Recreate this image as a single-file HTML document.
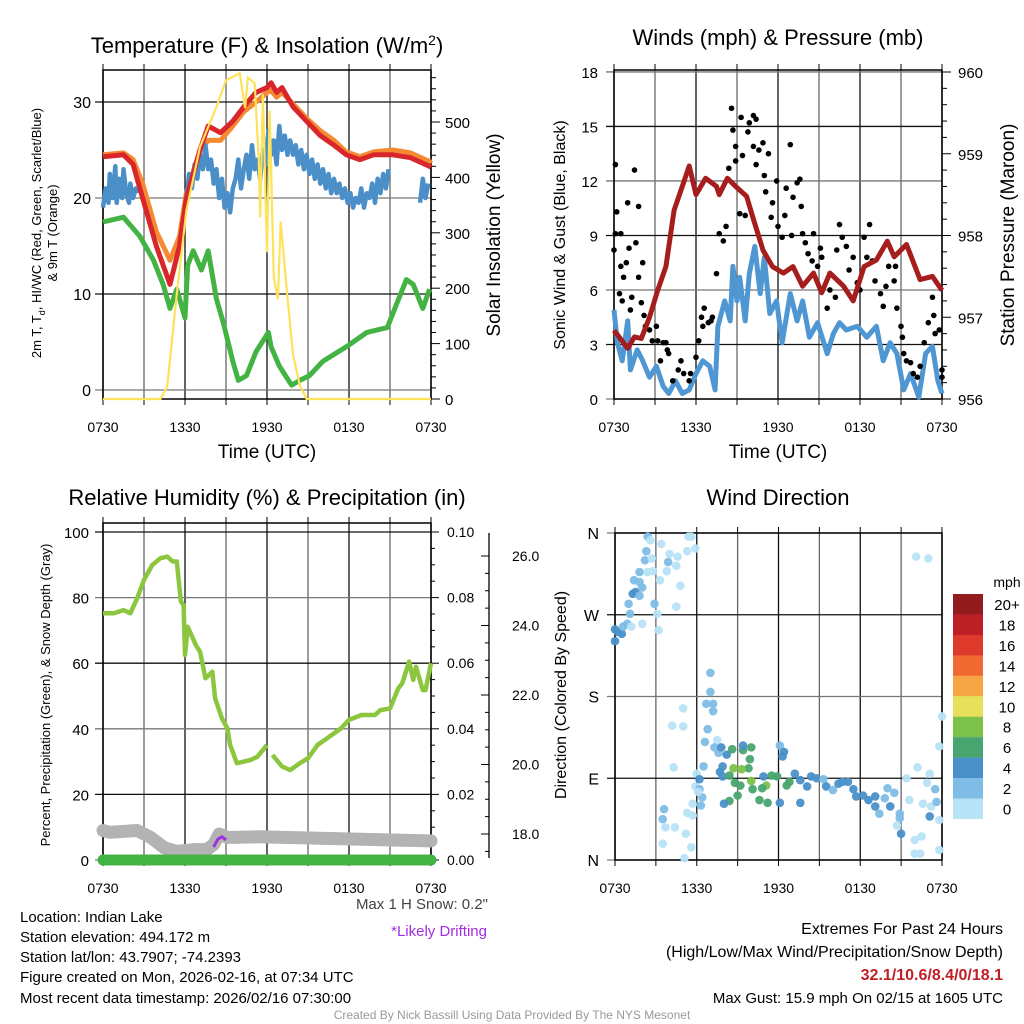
<!DOCTYPE html>
<html><head><meta charset="utf-8"><style>
html,body{margin:0;padding:0;background:#fff}
svg{display:block;font-family:"Liberation Sans",sans-serif}
.t{font-family:"Liberation Sans Narrow","Liberation Sans",sans-serif}
</style></head><body>
<svg id="s" width="1024" height="1024" viewBox="0 0 1024 1024" xmlns="http://www.w3.org/2000/svg"></svg>
<script>
// ---------- DATA ----------
const xTickLabels=["0730","1330","1930","0130","0730"];
// Panel 1 (hours since 0730)
const redH=[0,1.5,2.2,2.9,3.9,4.9,5.6,6.1,7.1,7.7,8.6,9.5,10.3,11.2,12,12.3,12.7,13.1,13.9,14.9,15.9,16.9,17.8,18.8,19.8,21.2,22.5,23.9,24];
const redT=[24.3,24.5,23.5,20,15,11,15,20,25,27.5,26.8,28,29.5,31,31.5,32,31,31.5,29.5,28,26.5,25.5,24.5,24,24.5,24.5,24.2,23.3,23.2];
const orangeT=[24.5,24.7,24,21.5,16.5,13.5,16,20.5,25,26,26,27.5,29,30,31,31.2,30.5,31,29.8,28.3,27,26,24.8,24.3,24.8,25,24.7,23.8,23.6];
const blueH=[0,0.2,0.4,0.5,0.7,0.9,1,1.2,1.4,1.5,1.7,1.9,2.0,2.2,2.4,2.5,null,6.1,6.3,6.5,6.7,6.9,7.1,7.3,7.5,7.7,7.9,8.1,8.3,8.5,8.7,8.9,9.1,9.3,9.5,9.7,9.9,10.1,10.3,10.5,10.7,10.9,11.1,11.3,11.5,11.7,11.9,12.1,12.3,12.5,12.7,12.9,13.1,13.3,13.5,13.7,13.9,14.1,14.3,14.5,14.7,14.9,15.1,15.3,15.5,15.7,15.9,16.1,16.3,16.5,16.7,16.9,17.1,17.3,17.5,17.7,17.9,18.1,18.3,18.5,18.7,18.9,19.1,19.3,19.5,19.7,19.9,20.1,20.3,20.5,20.7,20.9,null,23.2,23.4,23.6,23.8];
const blueT=[19,21,19.5,22.5,20,23.3,19.5,22,20,23,20.5,19.5,21.5,20,21,20.5,null,20,22.5,21,23.5,22,24.5,23,25.5,23,24,21.5,23,20,22,19,20.5,18.5,21,22,24,21,23,24.5,22,25.5,23,24,22,25,23.5,27,24.5,26,23.5,27.5,25,26.5,24.5,26,24.5,25.5,23.5,25,23,24.5,22.5,24,22,23.5,21.5,23,21,22.5,20.5,22,20.5,21.5,20,21,19.5,20.5,19,20,19.5,21,19,20.5,20,21.5,19.5,22,20.5,22.5,21,23,null,19.5,22,20,21.5];
const greenH=[0,1.5,2.7,3.7,4.4,4.9,5.4,6,6.2,6.6,7.2,7.7,8.3,8.8,9.5,9.9,10.5,11.2,12.1,12.3,12.9,13.8,14.4,15.1,16.1,17.8,19.3,20.8,21.5,22.2,22.7,23.4,23.9];
const greenT=[17.5,18,16,13.5,11,8.5,10.5,7.5,13,14.5,12.5,14.5,9.5,7,3,1,1.5,4,6,4.5,2.5,0.5,1,1.5,3,4.5,6,6.5,9,11.5,11,8.5,10.5];
const solarH=[0,4.2,4.7,5.4,6.1,7.1,8.3,9,10,10.4,10.6,11.1,11.4,11.5,11.7,12,12.2,12.5,12.8,13,13.4,13.9,14.4,14.9,24];
const solarS=[0,0,22,190,340,455,527,575,588,525,580,570,430,328,550,265,520,220,180,320,210,80,25,0,0];
// Panel 2
const presH=[0,1,1.5,2,2.6,3.2,3.8,4.4,5,5.5,6,6.7,7.5,7.7,8.3,8.9,9.7,10.2,10.9,11.6,12.4,13.1,13.8,14.6,15.2,15.8,16.8,17.5,18.3,19.2,20,20.5,21.4,22.4,23.3,24];
const presP=[956.84,956.62,956.76,956.74,957.0,957.33,957.62,958.31,958.6,958.85,958.5,958.7,958.6,958.5,958.7,958.6,958.48,958.2,957.82,957.62,957.54,957.62,957.38,957.54,957.3,957.54,957.38,957.2,957.62,957.7,957.93,957.74,957.89,957.46,957.5,957.33];
const windH=[0,0.25,0.6,1,1.2,1.7,2.1,2.6,3.1,3.6,4,4.5,5,5.5,6,6.5,7,7.4,7.6,8.1,8.5,8.7,9,9.2,9.6,9.9,10.3,10.7,11,11.4,11.9,12.3,12.9,13.4,13.8,14.3,14.9,15.6,16.05,16.5,17,17.8,18.5,19.2,19.7,20.2,20.7,21.2,21.7,22.3,22.8,23.3,23.7,24];
const windV=[4.9,3.1,2.1,4.3,1.6,2.7,2.1,1.2,1.8,0.7,0.3,1,0.3,0.5,1.4,2.1,1.8,0.5,4,5.4,4.3,7.3,5.4,6.7,4.3,6.9,8.4,5.8,7.8,4.7,5.4,3.1,5.8,4.3,5.4,3.4,4.2,2.5,3.6,4.2,3.8,4,3.4,4,2.1,3.1,2.5,0.5,1.4,0.1,2.5,2.9,1,0.3];
const gustH=[0,0.1,0.2,0.1,0.5,0.4,0.5,0.6,0.7,0.9,1.1,1,1.2,1.3,1.5,1.6,1.8,1.8,2,2.1,2.2,2.3,2.6,2.8,3.1,3.2,3.4,3.6,3.8,3.9,4,4.3,4.7,4.9,5.1,5.5,5.6,6,6.2,6.4,6.6,6.5,6.9,7.1,7.2,7.5,7.7,8,8.2,8.4,8.6,8.7,8.9,8.9,9.2,9.3,9.4,9.6,9.8,9.9,10.2,10.4,10.2,10.4,10.6,10.9,11,11.3,11.1,11.6,11.5,11.9,12,12.3,12.5,12.6,12.9,13,13.1,13.4,13.6,13.7,13.8,14,14.2,14.5,14.6,14.9,15.1,15.2,15.6,15.8,16.2,16.3,16.5,16.7,17,17.2,17.5,17.8,18,18.3,18.5,18.7,18.9,19.1,19.5,19.7,19.9,20.1,20.5,20.6,20.7,21,21.1,21.2,21.4,21.7,21.9,22.2,22.4,22.7,23,23.3,23.4,23.5,23.8,24,24];
const gustV=[8.2,12.9,10.3,9.1,9.1,5.8,7.3,5.4,6.7,7.5,8.3,10.8,4.9,5.6,12.6,8.6,10.6,6.7,5.3,7.5,4.6,4,3.8,3.2,4,3.2,2.1,3.1,3.1,2.7,2.5,1,1.6,2.1,1.4,1,1.4,2.3,3.2,4.5,5,4,4.2,4.3,4.5,6.9,9.1,8.7,9.5,12.7,16,14.8,13.9,13.1,10.2,15.5,13.4,10.1,14.7,15.2,15.6,15.4,13.9,12.9,13.7,14.1,12.3,13.5,11.4,10.8,10,12,9.5,8.9,10.1,11.6,14,9,11.1,11.9,12.1,10.6,9.1,8.6,8,7.6,9.1,7.3,8.3,7.8,5,6,5.6,8.2,9.6,8.9,8.4,7.1,7.8,6.4,6,8.9,7.8,9.6,7.6,6.5,5.8,5.1,6.2,7.3,6.5,7.3,5,4,3.4,2.5,2.1,2,1.4,1.2,1.8,3.1,4.2,5.6,4.6,3.6,3.8,1.6,1.2];
// Panel 3
const rhH=[0,0.8,1.5,2,2.5,3,3.6,4.2,4.7,5.1,5.4,5.7,5.9,6.0,6.2,6.8,7.1,7.5,8,8.2,8.7,9.1,9.3,9.8,10.8,11.3,12.0,null,12.4,13.1,13.7,14.4,15,15.7,16.4,17.4,18,18.9,19.9,20.3,21,21.6,21.9,22.4,22.7,22.9,23.4,23.6,24];
const rhV=[75.2,75.2,76.2,75.2,79.8,85.4,89.9,92,92.5,91,91,78.8,77.7,62.5,71.1,65.5,63.5,55.4,57.4,49.3,43.2,40.1,35.1,29.5,30.5,31.5,35.1,null,32,28.5,27.4,29.5,31,35.1,37.1,40.1,42.7,44.2,44.2,45.7,46.2,52.3,53.9,60.5,54.9,58.9,51.8,51.8,60];
const snowH=[0,0.5,2.5,3.5,4.5,5.4,6.7,7.6,8.1,8.5,9.1,11.3,24];
const snowD=[18.1,18.05,18.1,17.9,17.6,17.5,17.55,17.55,17.7,18.0,17.9,17.92,17.8];
const driftH=[8.1,8.4,8.7,9.0];
const driftD=[17.63,17.85,17.92,17.83];
// Panel 4
const dirH=[0,0,0.2,0.5,0.6,0.9,1.1,1,1.3,1.5,1.8,2,1.8,1.4,1.8,2.2,2.3,2.4,2.6,2.7,2.4,2.8,3.3,3.4,3.8,3.9,4,4.5,4.6,4.8,4.5,2.9,3.1,3.2,2,1.2,5.3,5.6,5.9,5.4,7,7,6.7,7.2,7.2,5,4.2,5,6.8,6.6,7.5,7.3,7.6,7.8,8.2,8.6,9.4,10,9.4,9.9,9.8,8.7,9.3,7.9,7.7,7.9,8.4,8.8,9.2,9,8.4,8,10,11.1,10.1,10.8,10.6,11.2,10.9,11.5,11.9,12.1,12.4,12.3,12.6,12.8,12.1,13.6,13.2,13.6,14.1,14.4,14.8,15.3,15.5,16,16.4,16.7,17.1,17.5,17.7,18.2,18.6,19.1,19.4,19.1,19.8,20,20.2,20.5,20.9,21,21.4,21.6,22,22.2,22.5,22.9,22.6,23.1,23.2,23.1,23.5,23.6,23.8,24,23.8,23.8,22,22.4,22.1,23,20.9,20.7,3.6,3.5,3.5,3.7,4.4,5.2,5.6,5.1,5.3,5.7,5.7,6,5.9,6.2,6.2,6.4,6.3,4.3,6.5,6.1];
const dirD=[241,254,251,249,257,260,271,282,293,295,291,300,306,308,317,330,340,356,352,332,317,318,308,348,318,328,337,324,334,302,279,282,271,253,260,257,340,356,343,356,206,185,172,172,164,167,148,147,144,130,132,124,118,124,116,122,121,124,126,111,101,101,100,103,97,92,93,85,82,71,65,62,87,82,78,79,66,63,92,93,92,126,119,114,82,86,63,63,95,88,81,92,90,89,81,77,84,86,86,78,70,71,66,70,51,59,68,79,59,74,51,29,90,66,22,102,26,85,62,95,59,48,78,64,125,158,44,11,7,7,334,332,46,38,56,45,18,36,36,29,14,2,52,49,62,95,81,89,78,69,60,102,103,75];
const dirS=[5,5,5,5,3,3,3,3,5,5,3,3,3,3,3,3,3,3,1,1,1,1,1,1,1,3,1,1,1,1,1,3,1,1,1,1,1,1,1,1,3,3,3,3,3,1,1,1,3,3,1,3,3,5,5,7,7,7,5,7,7,9,9,5,5,5,7,7,7,7,7,5,9,9,7,7,7,7,5,7,7,3,5,5,7,7,5,5,5,5,5,5,5,3,5,3,5,5,5,5,5,5,5,5,3,5,3,3,5,3,3,5,1,1,1,1,1,1,1,1,1,5,3,3,1,1,1,1,1,1,1,1,3,1,3,3,1,1,1,1,1,1,1,1,1,1,1,5,3,3,3,1,3,1];
const legendLabels=["20+","18","16","14","12","10","8","6","4","2","0"];
const legendColors=["#921b1e","#bd1f26","#dd3a2b","#ef6930","#f6a545","#e6e05a","#7cc14a","#49a570","#4a90c8","#7fbde6","#b8e3f7"];

// ---------- DRAWING ----------
const S=document.getElementById('s');
const NS="http://www.w3.org/2000/svg";
function mk(tag,attrs,parent){const e=document.createElementNS(NS,tag);for(const k in attrs)e.setAttribute(k,attrs[k]);(parent||S).appendChild(e);return e;}
function txt(x,y,str,size,opts,parent){opts=opts||{};const e=mk('text',{x:x,y:y,'font-size':size,'text-anchor':opts.anchor||'middle',fill:opts.fill||'#000'},parent);if(opts.rot)e.setAttribute('transform','rotate('+opts.rot+' '+x+' '+y+')');if(opts.cls)e.setAttribute('class',opts.cls);if(opts.weight)e.setAttribute('font-weight',opts.weight);e.textContent=str;return e;}
function pathFrom(hs,vs,fx,fy){let d='',pen=false;for(let i=0;i<hs.length;i++){if(hs[i]===null||vs[i]===null){pen=false;continue;}d+=(pen?'L':'M')+fx(hs[i]).toFixed(1)+' '+fy(vs[i]).toFixed(1);pen=true;}return d;}
function grid(g,x0,x1,y0,y1,yl){for(let i=0;i<=8;i++){const x=x0+(x1-x0)*i/8;mk('line',{x1:x,y1:y0,x2:x,y2:y1,stroke:i%2?'#666':'#111','stroke-width':1.3},g);mk('line',{x1:x,y1:y0,x2:x,y2:y0-6,stroke:'#000'},g);mk('line',{x1:x,y1:y1,x2:x,y2:y1+6,stroke:'#000'},g);}
 yl.forEach((y,i)=>{mk('line',{x1:x0-8,y1:y,x2:x1,y2:y,stroke:i%2?'#111':'#777','stroke-width':1.3},g);});
 mk('rect',{x:x0,y:y0,width:x1-x0,height:y1-y0,fill:'none',stroke:'#000','stroke-width':1.5},g);
 xTickLabels.forEach((l,i)=>{const t=txt(x0+(x1-x0)*i/4,y1+33,l,14,{cls:'t'},g);});}

// ===== Panel 1 =====
{const g=mk('g',{});
const X0=103,X1=431,Y0=70,Y1=399;const fx=h=>X0+h*(X1-X0)/24;const fy=t=>390-9.6*t;const fs=s=>399-0.554*s;
grid(g,X0,X1,Y0,Y1,[fy(0),fy(10),fy(20),fy(30)]);
[0,10,20,30].forEach(v=>{const t=txt(X0-12,fy(v)+6,String(v),16,{anchor:'end'},g);});
for(let s=0;s<=590;s+=20){mk('line',{x1:X1,y1:fs(s),x2:X1+(s%100?5:9),y2:fs(s),stroke:'#000'},g);}
[0,100,200,300,400,500].forEach(v=>{const t=txt(X1+14,fs(v)+6,String(v),15,{anchor:'start'},g);});
const l1=mk('path',{d:pathFrom(redH,orangeT,fx,fy),fill:'none',stroke:'#f58a33','stroke-width':5,'stroke-linejoin':'round'},g);
const l2=mk('path',{d:pathFrom(blueH,blueT,fx,fy),fill:'none',stroke:'#4a8fc8','stroke-width':4.5,'stroke-linejoin':'round'},g);
const l3=mk('path',{d:pathFrom(redH,redT,fx,fy),fill:'none',stroke:'#d9262b','stroke-width':5,'stroke-linejoin':'round'},g);
const l4=mk('path',{d:pathFrom(greenH,greenT,fx,fy),fill:'none',stroke:'#43b344','stroke-width':5,'stroke-linejoin':'round'},g);
const l5=mk('path',{d:pathFrom(solarH,solarS,fx,fs),fill:'none',stroke:'#fde25a','stroke-width':2.2},g);
const t1=mk('text',{x:267,y:53,'font-size':22,'text-anchor':'middle'},g);t1.innerHTML='Temperature (F) &amp; Insolation (W/m<tspan dy="-8" font-size="14">2</tspan><tspan dy="8">)</tspan>';
const a=txt(41,233,'',13,{rot:-90},g);a.innerHTML='2m T, T<tspan dy="4" font-size="9">d</tspan><tspan dy="-4">, HI/WC (Red, Green, Scarlet/Blue)</tspan>';
const a2=txt(57,233,'& 9m T (Orange)',13,{rot:-90},g);
const a3=txt(500,235,'Solar Insolation (Yellow)',19,{rot:-90},g);
const a4=txt(267,458,'Time (UTC)',19,{},g);}

// ===== Panel 2 =====
{const g=mk('g',{});
const X0=614,X1=942,Y0=70,Y1=399;const fx=h=>X0+h*(X1-X0)/24;const fy=v=>399-v*18.17;const fp=p=>399-(p-956)*81.75;
grid(g,X0,X1,Y0,Y1,[fy(0),fy(3),fy(6),fy(9),fy(12),fy(15),fy(18)]);
[0,3,6,9,12,15,18].forEach(v=>{const t=txt(X0-16,fy(v)+6,String(v),15,{anchor:'end'},g);});
for(let p=956;p<=960.001;p+=0.2){mk('line',{x1:X1,y1:fp(p),x2:X1+(Math.abs(p-Math.round(p))<0.01?9:5),y2:fp(p),stroke:'#000'},g);}
[956,957,958,959,960].forEach(v=>{const t=txt(X1+16,fp(v)+6,String(v),15,{anchor:'start'},g);});
const w=mk('path',{d:pathFrom(windH,windV,fx,fy),fill:'none',stroke:'#4f97d3','stroke-width':5,'stroke-linejoin':'round'},g);
for(let i=0;i<gustH.length;i++){const c=mk('circle',{cx:fx(gustH[i]),cy:fy(gustV[i]),r:2.8,fill:'#000'},g);

}
const p=mk('path',{d:pathFrom(presH,presP,fx,fp),fill:'none',stroke:'#a51d1d','stroke-width':5,'stroke-linejoin':'round'},g);
const t=txt(778,45,'Winds (mph) & Pressure (mb)',22,{},g);
const a=txt(565,235,'Sonic Wind & Gust (Blue, Black)',16,{rot:-90},g);
const b=txt(1014,235,'Station Pressure (Maroon)',19,{rot:-90},g);
const c=txt(778,458,'Time (UTC)',19,{},g);}

// ===== Panel 3 =====
{const g=mk('g',{});
const X0=103,X1=431,Y0=523,Y1=860;const fx=h=>X0+h*(X1-X0)/24;const fy=v=>860-v*3.28;const fpr=v=>860-v*3280;const fsn=s=>834-(s-18)*34.75;
grid(g,X0,X1,Y0,Y1,[fy(0),fy(20),fy(40),fy(60),fy(80),fy(100)]);
[0,20,40,60,80,100].forEach(v=>{const t=txt(X0-14,fy(v)+6,String(v),15,{anchor:'end'},g);});
for(let i=0;i<=20;i++){const v=i*0.005;mk('line',{x1:X1,y1:fpr(v),x2:X1+(i%4?4:8),y2:fpr(v),stroke:'#000'},g);}
[0,0.02,0.04,0.06,0.08,0.10].forEach(v=>{const t=txt(X1+16,fpr(v)+5,v.toFixed(2),14,{anchor:'start'},g);});
mk('line',{x1:489,y1:533,x2:489,y2:858,stroke:'#000','stroke-width':1.3},g);
for(let s=17.5;s<=26.01;s+=0.5){mk('line',{x1:489,y1:fsn(s),x2:489-(Math.abs(s%2)<0.01?8:4),y2:fsn(s),stroke:'#000'},g);}
[18,20,22,24,26].forEach(v=>{const t=txt(512,fsn(v)+5,v.toFixed(1),14,{anchor:'start'},g);});
const sn=mk('path',{d:pathFrom(snowH,snowD,fx,fsn),fill:'none',stroke:'#b3b3b3','stroke-width':13,'stroke-linejoin':'round','stroke-linecap':'round'},g);
const dr=mk('path',{d:pathFrom(driftH,driftD,fx,fsn),fill:'none',stroke:'#a12de0','stroke-width':3},g);
const pr=mk('line',{x1:X0,y1:fpr(0),x2:X1,y2:fpr(0),stroke:'#43b344','stroke-width':11,'stroke-linecap':'round'},g);
const rh=mk('path',{d:pathFrom(rhH,rhV,fx,fy),fill:'none',stroke:'#8cc63f','stroke-width':4.5,'stroke-linejoin':'round'},g);
const t=txt(267,505,'Relative Humidity (%) & Precipitation (in)',22,{},g);
const a=txt(50,695,'Percent, Precipitation (Green), & Snow Depth (Gray)',13,{rot:-90},g);}

// ===== Panel 4 =====
{const g=mk('g',{});
const X0=615,X1=942,Y0=533,Y1=860;const fx=h=>X0+h*(X1-X0)/24;const fy=d=>860-d*327/360;
grid(g,X0,X1,Y0,Y1,[fy(0),fy(90),fy(180),fy(270),fy(360)]);
['N','E','S','W','N'].forEach((l,i)=>{const t=txt(X0-16,fy(i*90)+6,l,16,{anchor:'end'},g);});
function col(s){const idx=Math.min(10,Math.floor(s/2));return legendColors[10-idx];}
for(let i=0;i<dirH.length;i++){const c=mk('circle',{cx:fx(dirH[i]),cy:fy(dirD[i]),r:4.3,fill:col(dirS[i]),'fill-opacity':0.95},g);

}
legendColors.forEach((c,i)=>{const r=mk('rect',{x:953,y:594+i*20.45,width:30,height:20.6,fill:c},g);
const t=txt(1007,610+i*20.45,legendLabels[i],15,{},g);});
const u=txt(1007,587,'mph',14,{},g);
const t=txt(778,505,'Wind Direction',22,{},g);
const a=txt(566,695,'Direction (Colored By Speed)',16,{rot:-90},g);}

// ===== Footer text =====
{const g=mk('g',{});
const L=[['Location: Indian Lake',922],['Station elevation: 494.172 m',942],['Station lat/lon: 43.7907; -74.2393',962],['Figure created on Mon, 2026-02-16, at 07:34 UTC',982],['Most recent data timestamp: 2026/02/16 07:30:00',1003]];
L.forEach(([s,y])=>{const t=txt(20,y,s,15,{anchor:'start',cls:'t'},g);});
let t=txt(488,909,'Max 1 H Snow: 0.2"',15,{anchor:'end',fill:'#444',cls:'t'},g);
t=txt(487,936,'*Likely Drifting',15,{anchor:'end',fill:'#a12de0',cls:'t'},g);
t=txt(1003,934,'Extremes For Past 24 Hours',16,{anchor:'end',cls:'t'},g);
t=txt(1003,957,'(High/Low/Max Wind/Precipitation/Snow Depth)',16,{anchor:'end',cls:'t'},g);
t=txt(1003,980,'32.1/10.6/8.4/0/18.1',16,{anchor:'end',fill:'#c01f26',weight:'bold',cls:'t'},g);
t=txt(1003,1003,'Max Gust: 15.9 mph On 02/15 at 1605 UTC',15,{anchor:'end',cls:'t'},g);
t=txt(512,1019,'Created By Nick Bassill Using Data Provided By The NYS Mesonet',12,{fill:'#999',cls:'t'},g);}
</script>
</body></html>
